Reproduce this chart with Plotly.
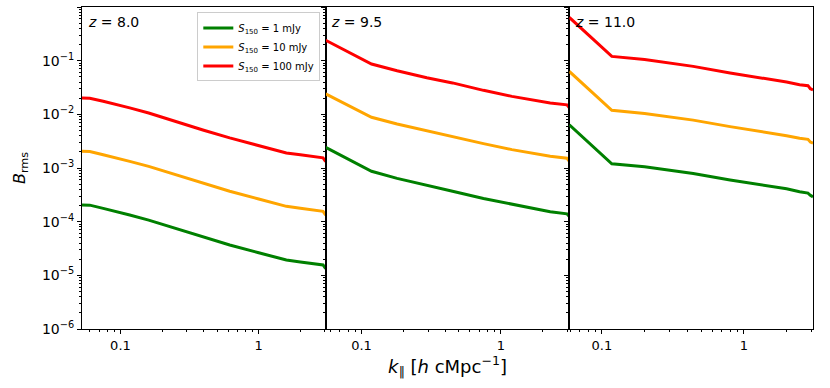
import plotly.graph_objects as go
from plotly.subplots import make_subplots
import math

# z = 8.0
k_z8 = [0.0527, 0.060, 0.075, 0.095, 0.1167, 0.16, 0.21, 0.268, 0.40, 0.617, 1.0, 1.585, 2.0, 2.47, 2.84, 2.92, 3.05]
red_z8 = [0.0202, 0.0200, 0.0175, 0.0152, 0.0132, 0.0106, 0.0085, 0.0069, 0.00504, 0.00364, 0.00261, 0.00191, 0.00176, 0.00165, 0.00158, 0.00155, 0.00132]
orange_z8 = [0.00205, 0.00203, 0.00177, 0.00154, 0.00133, 0.00107, 0.00086, 0.00070, 0.00051, 0.000368, 0.000264, 0.000193, 0.000178, 0.000166, 0.000159, 0.000156, 0.000133]
green_z8 = [0.000205, 0.000203, 0.000177, 0.000154, 0.000133, 0.000107, 0.0000860, 0.0000700, 0.0000510, 0.0000368, 0.0000264, 0.0000193, 0.0000178, 0.0000166, 0.0000159, 0.0000156, 0.0000133]

# z = 9.5
k_z95 = [0.0553, 0.118, 0.18, 0.294, 0.45, 0.75, 1.2, 2.26, 2.98, 3.1]
red_z95 = [0.24, 0.0867, 0.065, 0.048, 0.0385, 0.028, 0.0216, 0.0163, 0.0150, 0.0133]
orange_z95 = [0.024, 0.0088, 0.0066, 0.0049, 0.0039, 0.00285, 0.0022, 0.00165, 0.00152, 0.00134]
green_z95 = [0.00243, 0.00087, 0.00064, 0.00047, 0.00037, 0.00027, 0.00021, 0.000153, 0.000140, 0.000124]

# z = 11.0
k_z11 = [0.059, 0.1175, 0.2, 0.44, 0.8, 1.16, 2.0, 2.47, 2.83, 2.94, 3.07]
red_z11 = [0.64, 0.120, 0.105, 0.0783, 0.059, 0.051, 0.040, 0.0357, 0.0342, 0.0300, 0.0285]
orange_z11 = [0.063, 0.0119, 0.0104, 0.0078, 0.0059, 0.0051, 0.0040, 0.00357, 0.00342, 0.00305, 0.0029]
green_z11 = [0.0064, 0.00120, 0.00105, 0.00079, 0.00060, 0.00052, 0.00041, 0.00036, 0.00034, 0.00031, 0.00029]

panels = [
    ('8.0', k_z8, [green_z8, orange_z8, red_z8]),
    ('9.5', k_z95, [green_z95, orange_z95, red_z95]),
    ('11.0', k_z11, [green_z11, orange_z11, red_z11]),
]
x_ranges = [(0.0527, 3.05), (0.0553, 3.1), (0.059, 3.07)]
colors = ['green', 'orange', 'red']
names = ['<i>S</i><sub>150</sub> = 1 mJy', '<i>S</i><sub>150</sub> = 10 mJy', '<i>S</i><sub>150</sub> = 100 mJy']

fig = make_subplots(rows=1, cols=3, shared_yaxes=True, horizontal_spacing=0)

for i, (z, k, series) in enumerate(panels):
    for j, y in enumerate(series):
        fig.add_trace(go.Scatter(
            x=k, y=y, mode='lines', name=names[j],
            line=dict(color=colors[j], width=3),
            showlegend=(i == 0)
        ), row=1, col=i + 1)
    fig.add_annotation(
        text='<i>z</i> = ' + z, xref='x%s domain' % ('' if i == 0 else i + 1),
        yref='y domain', x=0.015, y=0.985, xanchor='left', yanchor='top',
        showarrow=False, font=dict(size=14, color='black')
    )

x_minor = [d * 10 ** e for e in (-2, -1, 0) for d in range(2, 10)]
y_minor = [d * 10 ** e for e in range(-6, 0) for d in range(2, 10)]

for i in range(3):
    lo, hi = x_ranges[i]
    fig.update_xaxes(
        type='log', range=[math.log10(lo), math.log10(hi)],
        tickvals=[0.1, 1], ticktext=['0.1', '1'],
        ticks='outside', ticklen=4, tickwidth=1, tickcolor='black',
        minor=dict(tickvals=x_minor, ticks='outside', ticklen=2, tickcolor='black', showgrid=False),
        showline=True, linecolor='black', linewidth=1, mirror=True,
        showgrid=False, zeroline=False,
        tickfont=dict(size=13, color='black'),
        row=1, col=i + 1
    )
    fig.update_yaxes(
        type='log', range=[-6, 0],
        tickvals=[10 ** e for e in range(-6, 1)],
        ticktext=['10<sup>%s</sup>' % (str(e).replace('-', '\u2212')) for e in range(-6, 1)],
        showticklabels=(i == 0),
        ticks='outside', ticklen=4, tickwidth=1, tickcolor='black',
        minor=dict(tickvals=y_minor, ticks='outside', ticklen=2, tickcolor='black', showgrid=False),
        showline=True, linecolor='black', linewidth=1, mirror=True,
        showgrid=False, zeroline=False,
        tickfont=dict(size=14, color='black'),
        row=1, col=i + 1
    )

fig.update_xaxes(
    title=dict(text='<i>k</i><sub>\u2225</sub> [<i>h</i> cMpc<sup>\u22121</sup>]', font=dict(size=18, color='black'), standoff=8),
    row=1, col=2
)
fig.update_yaxes(
    title=dict(text='<i>B</i><sub>rms</sub>', font=dict(size=16, color='black'), standoff=12),
    row=1, col=1
)

fig.update_layout(
    width=830, height=388,
    margin=dict(l=82, r=17, t=7, b=59),
    plot_bgcolor='white', paper_bgcolor='white',
    font=dict(family='DejaVu Sans', color='black'),
    legend=dict(
        x=0.326, y=0.983, xanchor='right', yanchor='top',
        bgcolor='rgba(255,255,255,0.8)', bordercolor='#cccccc', borderwidth=1,
        font=dict(size=10, color='black'), itemwidth=30, tracegroupgap=0
    )
)

# drop the browser's default body margin so the figure sits at the page corner
fig.write_html("out.html", config={'displayModeBar': False},
               post_script="document.body.style.margin='0';")
